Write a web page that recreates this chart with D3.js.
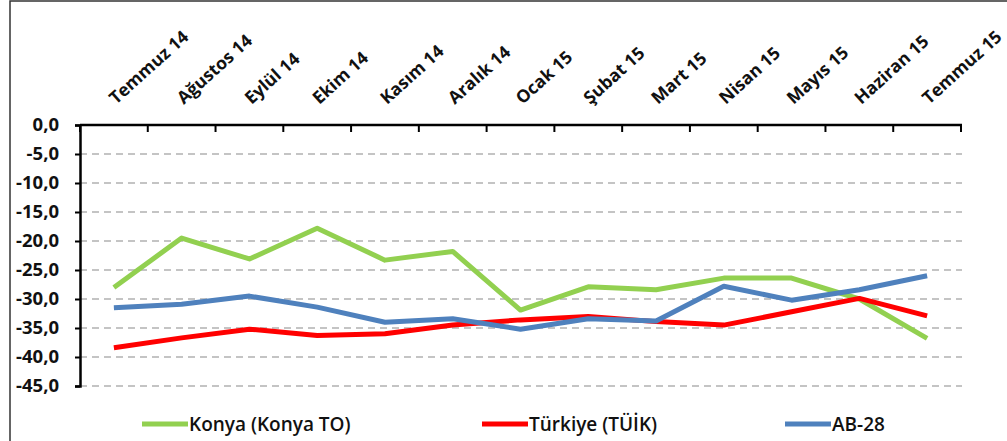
<!DOCTYPE html>
<html><head><meta charset="utf-8">
<script src="https://cdn.jsdelivr.net/npm/d3@7"></script>
<style>
html,body{margin:0;padding:0;background:#fff;overflow:hidden}
svg{display:block}
text{font-family:"Open Sans",sans-serif}
</style></head><body>
<svg id="c" width="1007" height="441"></svg>
<script>
const categories = ["Temmuz 14","Ağustos 14","Eylül 14","Ekim 14","Kasım 14","Aralık 14","Ocak 15","Şubat 15","Mart 15","Nisan 15","Mayıs 15","Haziran 15","Temmuz 15"];
const konya   = [-28.0,-19.5,-23.1,-17.8,-23.3,-21.8,-31.9,-27.9,-28.4,-26.4,-26.4,-30.0,-36.8];
const turkiye = [-38.4,-36.7,-35.2,-36.3,-36.0,-34.5,-33.6,-33.0,-33.9,-34.5,-32.2,-29.9,-32.9];
const ab28    = [-31.5,-30.9,-29.5,-31.4,-34.0,-33.4,-35.2,-33.4,-33.8,-27.8,-30.2,-28.4,-26.0];
const yTicks  = [0,-5,-10,-15,-20,-25,-30,-35,-40,-45];
const seriesNames = ["Konya (Konya TO)","Türkiye (TÜİK)","AB-28"];
const seriesColors = ["#92D050","#FF0000","#4F81BD"];

const svg = d3.select("#c");
// outer frame
svg.append("rect").attr("x",10).attr("y",1).attr("width",1100).attr("height",500)
  .attr("fill","none").attr("stroke","#333").attr("stroke-width",1.5);

const x = d3.scaleBand().domain(categories).range([80,961]);
const y = d3.scaleLinear().domain([-45,0]).range([386,125]);
const cx = d => x(d) + x.bandwidth()/2;

// gridlines
svg.append("g").selectAll("line").data(yTicks.filter(v=>v!==0)).join("line")
  .attr("x1",80).attr("x2",962).attr("y1",d=>y(d)).attr("y2",d=>y(d))
  .attr("stroke","#8a8a8a").attr("stroke-width",1.2).attr("stroke-dasharray","7,5");

// y axis
const fmt = v => v.toFixed(1).replace(".",",").replace("\u2212","-");
const ya = svg.append("g").attr("transform","translate(80,0)")
  .call(d3.axisLeft(y).tickValues(yTicks).tickSize(5).tickPadding(16).tickFormat(fmt));
ya.select(".domain").attr("stroke","#000").attr("stroke-width",2.5);
ya.selectAll(".tick line").attr("stroke","#000").attr("stroke-width",2);
ya.selectAll("text").attr("font-size",18.5).attr("font-weight",700).attr("fill","#111")
  .style("font-family","'Open Sans',sans-serif");

// x axis (top)
const xa = svg.append("g").attr("transform","translate(0,125)")
  .call(d3.axisTop(x).tickSize(0).tickPadding(0));
xa.select(".domain").attr("stroke","#000").attr("stroke-width",2.5).attr("d","M80,0H962");
xa.selectAll(".tick text").attr("font-size",17.5).attr("font-weight",700).attr("fill","#111")
  .style("font-family","'Open Sans',sans-serif")
  .attr("text-anchor","start").attr("dy",null).attr("y",0)
  .attr("transform","translate(2,-20) rotate(-42)");
const bounds = categories.map(d=>x(d)).concat([x.range()[1]]);
svg.append("g").selectAll("line").data(bounds).join("line")
  .attr("x1",d=>d).attr("x2",d=>d).attr("y1",125).attr("y2",132)
  .attr("stroke","#000").attr("stroke-width",2);

// lines
const line = d3.line().x((d,i)=>cx(categories[i])).y(d=>y(d));
[konya,turkiye,ab28].forEach((s,i)=>{
  svg.append("path").datum(s).attr("d",line).attr("fill","none")
    .attr("stroke",seriesColors[i]).attr("stroke-width",5).attr("stroke-linejoin","round");
});

// legend
const legX = [142,482,785];
const lg = svg.append("g");
seriesNames.forEach((n,i)=>{
  lg.append("line").attr("x1",legX[i]).attr("x2",legX[i]+46).attr("y1",424).attr("y2",424)
    .attr("stroke",seriesColors[i]).attr("stroke-width",5);
  lg.append("text").attr("x",legX[i]+47).attr("y",431).text(n)
    .attr("font-size",19).attr("font-weight",600).attr("fill","#111");
});
</script>
</body></html>
